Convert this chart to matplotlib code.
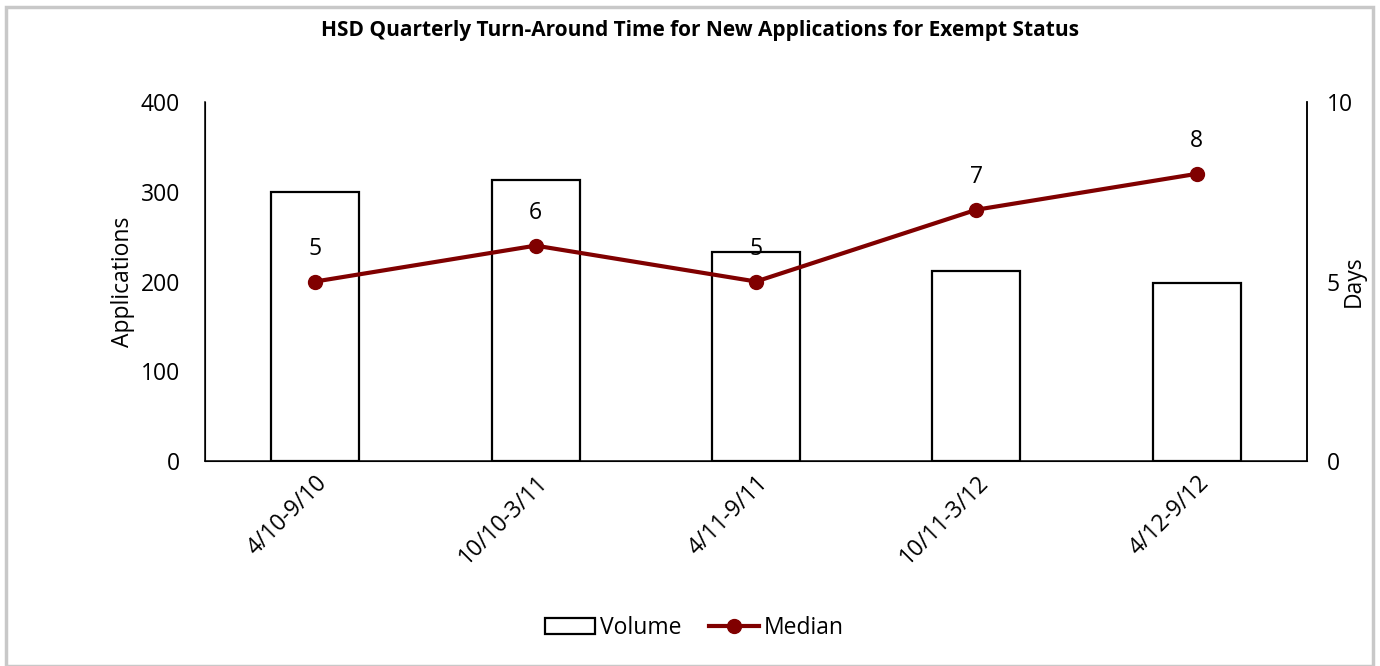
import matplotlib
matplotlib.use("Agg")
import matplotlib.pyplot as plt
from matplotlib.patches import Rectangle
from matplotlib.lines import Line2D

categories = ["4/10-9/10", "10/10-3/11", "4/11-9/11", "10/11-3/12", "4/12-9/12"]
volume = [300, 313, 233, 212, 198]
median = [5, 6, 5, 7, 8]

plt.rcParams['font.family'] = ['Open Sans', 'DejaVu Sans']
FS = 16.5

fig = plt.figure(figsize=(13.8, 6.66), dpi=100)
fig.patches.append(Rectangle((0.004, 0.0), 0.991, 0.989, transform=fig.transFigure,
                             fill=False, edgecolor='#c8c8c8', linewidth=2.5, zorder=0))

ax = fig.add_axes([0.1486, 0.3078, 0.7985, 0.539])
x = list(range(len(categories)))
ax.bar(x, volume, width=0.4, facecolor='white', edgecolor='black', linewidth=1.6, zorder=2)
ax.set_xlim(-0.5, len(categories) - 0.5)
ax.set_ylim(0, 400)
ax.set_yticks([0, 100, 200, 300, 400])
ax.set_xticks(x)
ax.set_xticklabels(categories, rotation=45, ha='right', rotation_mode='anchor', fontsize=FS)
ax.tick_params(axis='y', length=0, labelsize=FS, pad=18)
ax.tick_params(axis='x', length=0, labelsize=FS, pad=7)
ax.spines['top'].set_visible(False)
for s in ['left', 'right', 'bottom']:
    ax.spines[s].set_linewidth(1.1)
ax.set_ylabel("Applications", fontsize=FS, labelpad=4)

ax2 = ax.twinx()
ax2.plot(x, median, color='#800000', linewidth=3, marker='o', markersize=10, zorder=3)
ax2.set_ylim(0, 10)
ax2.set_yticks([0, 5, 10])
ax2.tick_params(axis='y', length=0, labelsize=FS, pad=14)
ax2.spines['top'].set_visible(False)
ax2.spines['right'].set_linewidth(1.1)
ax2.set_ylabel("Days", fontsize=FS, labelpad=-8)
for xi, m in zip(x, median):
    ax2.annotate(str(m), (xi, m), xytext=(0, 15), textcoords='offset points',
                 ha='center', va='bottom', fontsize=FS)

fig.suptitle("HSD Quarterly Turn-Around Time for New Applications for Exempt Status",
             x=0.507, y=0.97, fontsize=15, fontweight='bold')

handles = [Rectangle((0, 0), 1, 1, facecolor='white', edgecolor='black', linewidth=1.6),
           Line2D([0], [0], color='#800000', linewidth=3, marker='o', markersize=10)]
fig.legend(handles, ["Volume", "Median"], loc='center', bbox_to_anchor=(0.503, 0.057),
           ncol=2, frameon=False, fontsize=FS, handlelength=2.2, handletextpad=0.2,
           columnspacing=1.2)

fig.savefig("out.png", dpi=100)
